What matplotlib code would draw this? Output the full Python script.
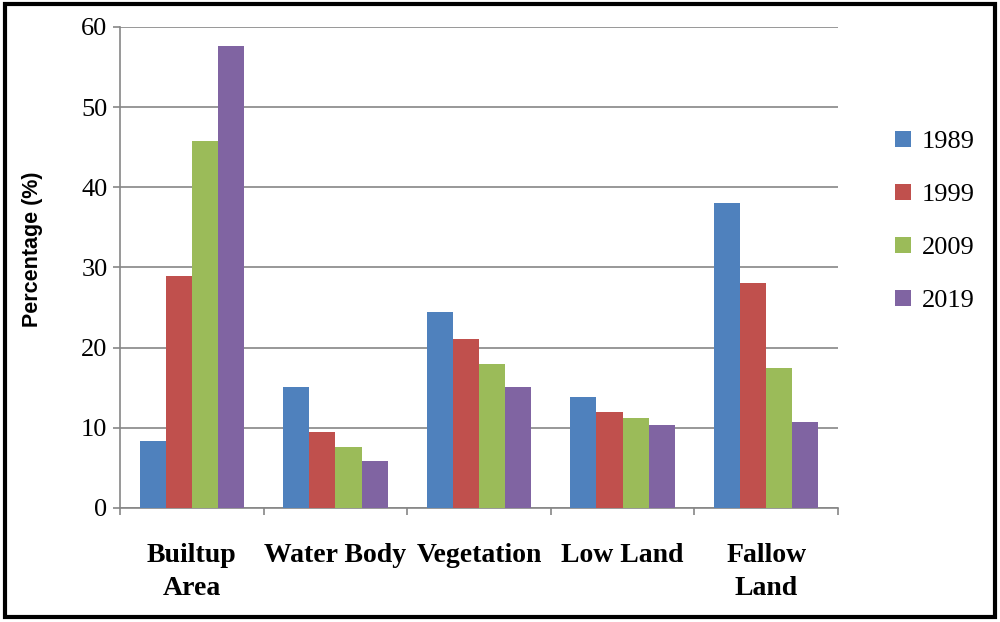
import matplotlib
matplotlib.use("Agg")
import matplotlib.pyplot as plt
import numpy as np
from matplotlib.patches import Patch, Rectangle

categories = ["Builtup\nArea", "Water Body", "Vegetation", "Low Land", "Fallow\nLand"]
years = ["1989", "1999", "2009", "2019"]
v1989 = [8.4, 15.1, 24.5, 13.8, 38.0]
v1999 = [29.0, 9.5, 21.1, 12.0, 28.1]
v2009 = [45.8, 7.6, 17.9, 11.2, 17.4]
v2019 = [57.6, 5.9, 15.1, 10.3, 10.7]
yticks = [0, 10, 20, 30, 40, 50, 60]

series = [v1989, v1999, v2009, v2019]
colors = ["#4F81BD", "#C0504D", "#9BBB59", "#8064A2"]

fig = plt.figure(figsize=(10, 6.22), dpi=100)
ax = fig.add_axes([0.120, 0.1833, 0.718, 0.7733])

x = np.arange(len(categories))
bw = 1 / 5.5
for i, (vals, c) in enumerate(zip(series, colors)):
    ax.bar(x + (i - 1.5) * bw, vals, width=bw, color=c, label=years[i], zorder=3)

ax.set_xlim(-0.5, len(categories) - 0.5)
ax.set_ylim(0, 60)
ax.set_yticks(yticks)
ax.set_yticklabels([str(t) for t in yticks], family="Liberation Serif", fontsize=19)
ax.set_xticks(x)
ax.set_xticklabels(categories, family="Liberation Serif", fontweight="bold", fontsize=20,
                   linespacing=1.45)
ax.set_xticks(np.arange(-0.5, len(categories)), minor=True)
ax.tick_params(axis="x", which="major", length=0, pad=25)
ax.tick_params(axis="x", which="minor", length=5, color="#868686", width=1.2)
ax.tick_params(axis="y", length=5, color="#868686", width=1.2, pad=4)

ax.grid(axis="y", color="#868686", linewidth=1.2, zorder=0)
for s in ["top", "right"]:
    ax.spines[s].set_visible(False)
for s in ["left", "bottom"]:
    ax.spines[s].set_color("#868686")
    ax.spines[s].set_linewidth(1.2)

ax.set_ylabel("Percentage (%)", family="Liberation Sans", fontweight="bold", fontsize=15.5)
ax.yaxis.set_label_coords(-0.107, 0.538)

handles = [Patch(facecolor=c, edgecolor="none") for c in colors]
fig.legend(handles, years, loc="upper left", bbox_to_anchor=(0.895, 0.79), frameon=False,
           prop={"family": "Liberation Serif", "size": 19}, handlelength=0.6, handleheight=0.6,
           handletextpad=0.4, labelspacing=1.15, borderaxespad=0, borderpad=0)

fig.patches.append(Rectangle((0.005, 0.008), 0.99, 0.985, transform=fig.transFigure,
                             fill=False, edgecolor="black", linewidth=3))

fig.savefig("out.png", dpi=100)
